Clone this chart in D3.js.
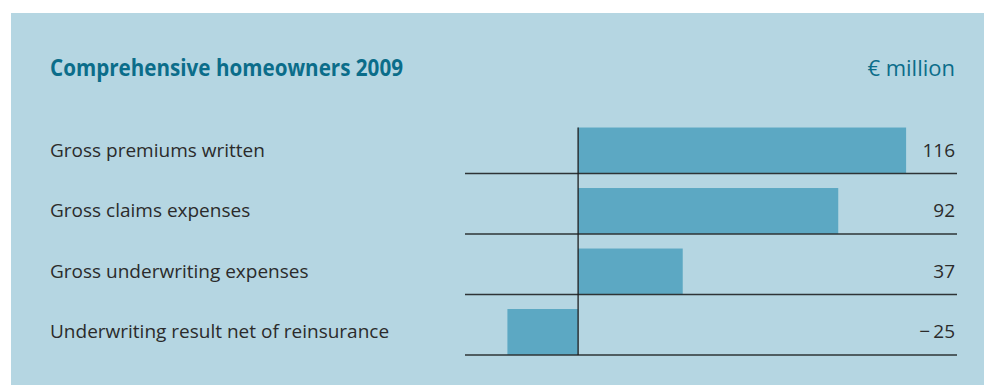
<!DOCTYPE html>
<html>
<head>
<meta charset="utf-8">
<script src="https://cdn.jsdelivr.net/npm/d3@7"></script>
<style>
  body { margin: 0; background: #fff; }
  text { font-family: "Open Sans", sans-serif; }
</style>
</head>
<body>
<div id="chart"></div>
<script>
// data
const categories = [
  "Gross premiums written",
  "Gross claims expenses",
  "Gross underwriting expenses",
  "Underwriting result net of reinsurance"
];
const values = [116, 92, 37, -25];
const valueLabels = ["116", "92", "37", "\u2212\u200925"];
const title = "Comprehensive homeowners 2009";
const unit = "\u20ac million";

const W = 984, H = 385;

const svg = d3.select("#chart")
  .append("svg")
    .attr("width", W)
    .attr("height", H);

// panel background
svg.append("rect")
  .attr("x", 11).attr("y", 13)
  .attr("width", W - 11).attr("height", H - 13)
  .attr("fill", "#b5d6e2");

// title and unit
svg.append("text")
  .attr("x", 50).attr("y", 76)
  .attr("fill", "#0b6d8a")
  .style("font-size", "23px")
  .style("font-weight", "bold")
  .attr("textLength", 353)
  .attr("lengthAdjust", "spacingAndGlyphs")
  .text(title);

svg.append("text")
  .attr("x", 955).attr("y", 76)
  .attr("text-anchor", "end")
  .attr("fill", "#0b6d8a")
  .style("font-size", "22px")
  .text(unit);

// scales
const x = d3.scaleLinear()
  .domain([-40, 134])
  .range([465, 957]);

const y = d3.scaleBand()
  .domain(categories)
  .range([113, 355]);

const bw = y.bandwidth();
const barH = bw * 0.76;

const rows = svg.selectAll(".row")
  .data(categories)
  .enter().append("g")
  .attr("class", "row");

// bars
rows.append("rect")
  .attr("x", (d, i) => x(Math.min(0, values[i])))
  .attr("y", d => y(d) + bw - barH)
  .attr("width", (d, i) => Math.abs(x(values[i]) - x(0)))
  .attr("height", barH)
  .attr("fill", "#5ca8c3");

// row lines
rows.append("line")
  .attr("x1", x.range()[0]).attr("x2", x.range()[1])
  .attr("y1", d => y(d) + bw).attr("y2", d => y(d) + bw)
  .attr("stroke", "#2e3436")
  .attr("stroke-width", 1.3);

// category labels
rows.append("text")
  .attr("x", 50)
  .attr("y", d => y(d) + bw - barH / 2 + 6)
  .attr("fill", "#2b2b2b")
  .style("font-size", "19px")
  .text(d => d);

// value labels
rows.append("text")
  .attr("x", 955)
  .attr("y", d => y(d) + bw - barH / 2 + 6)
  .attr("text-anchor", "end")
  .attr("fill", "#2b2b2b")
  .style("font-size", "19px")
  .text((d, i) => valueLabels[i]);

// zero line
svg.append("line")
  .attr("x1", x(0)).attr("x2", x(0))
  .attr("y1", y(categories[0]) + bw - barH)
  .attr("y2", y.range()[1])
  .attr("stroke", "#1e1e1e")
  .attr("stroke-width", 1.3);
</script>
</body>
</html>
